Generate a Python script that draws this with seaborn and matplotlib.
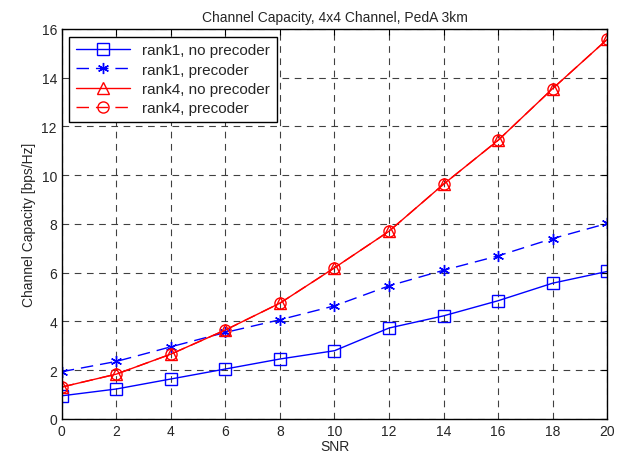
import matplotlib
matplotlib.use("Agg")
import matplotlib.pyplot as plt
import seaborn as sns
import pandas as pd

snr = [0, 2, 4, 6, 8, 10, 12, 14, 16, 18, 20]
rank1_noprec = [0.95, 1.23, 1.64, 2.05, 2.46, 2.8, 3.73, 4.23, 4.85, 5.57, 6.05]
rank1_prec = [1.94, 2.36, 2.96, 3.55, 4.07, 4.64, 5.46, 6.1, 6.69, 7.4, 8.02]
rank4_noprec = [1.31, 1.84, 2.66, 3.65, 4.75, 6.2, 7.7, 9.63, 11.43, 13.55, 15.57]
rank4_prec = [1.31, 1.84, 2.66, 3.65, 4.75, 6.2, 7.7, 9.63, 11.43, 13.55, 15.57]

sns.set_style("white")
plt.rcParams['font.family'] = ['Liberation Sans', 'DejaVu Sans']
plt.rcParams['font.size'] = 10

fig = plt.figure(figsize=(6.24, 4.6), dpi=100)
ax = fig.add_axes([0.099, 0.087, 0.874, 0.848])

# asterisk marker like matlab's '*'
asterisk = (6, 2, 0)

series = [
    ("rank1, no precoder", rank1_noprec, "blue", "s", None),
    ("rank1, precoder", rank1_prec, "blue", asterisk, (9, 5)),
    ("rank4, no precoder", rank4_noprec, "red", "^", None),
    ("rank4, precoder", rank4_prec, "red", "o", (9, 5)),
]

for name, vals, col, mk, dash in series:
    df = pd.DataFrame({"SNR": snr, "cap": vals})
    sns.lineplot(data=df, x="SNR", y="cap", ax=ax, color=col, marker=mk,
                 markersize=8, markerfacecolor="none",
                 markeredgecolor=col, markeredgewidth=1.0, linewidth=1.0,
                 label=name)
    if dash is not None:
        ax.lines[-1].set_dashes(dash)

ax.set_xlim(0, 20)
ax.set_ylim(0, 16)
ax.set_xticks(range(0, 21, 2))
ax.set_yticks(range(0, 17, 2))
ax.grid(True, color="black", linestyle=(0, (6, 5)), linewidth=0.8, alpha=0.75)
ax.tick_params(direction="in", top=True, right=True, length=4, color="black", labelsize=10)
for s in ax.spines.values():
    s.set_color("black")
    s.set_linewidth(1.0)

ax.set_title("Channel Capacity, 4x4 Channel, PedA 3km", fontsize=10)
ax.set_xlabel("SNR", fontsize=10, labelpad=1)
ax.set_ylabel("Channel Capacity [bps/Hz]", fontsize=10)

leg = ax.legend(loc="upper left", fancybox=False, framealpha=1, edgecolor="black",
                borderaxespad=0.5, handlelength=3.5, fontsize=11, labelspacing=0.35,
                borderpad=0.45)
leg.get_frame().set_linewidth(1.0)

fig.savefig("out.png", dpi=100)
